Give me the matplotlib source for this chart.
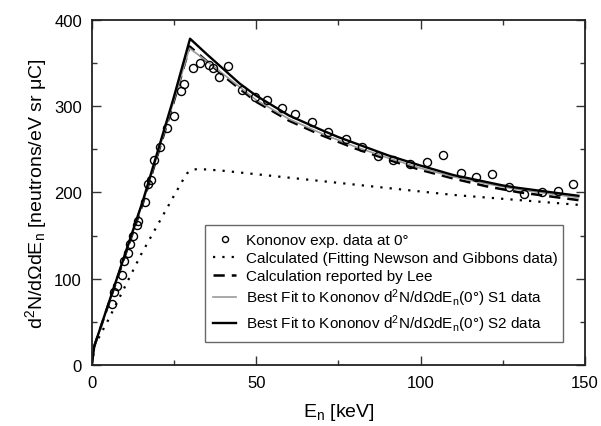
import matplotlib
matplotlib.use("Agg")
import matplotlib.pyplot as plt
from matplotlib.ticker import MultipleLocator

plt.rcParams["font.family"] = ["Liberation Sans", "DejaVu Sans"]
plt.rcParams["mathtext.default"] = "regular"

# Kononov experimental data at 0 deg
exp_e = [6.1, 6.9, 7.6, 9.3, 9.8, 10.9, 11.7, 12.6, 13.9, 14.1, 16.3, 17.0, 17.9,
         19.0, 20.9, 22.8, 25.1, 27.2, 28.2, 30.7, 32.9, 35.8, 36.8, 38.7, 41.3,
         45.8, 49.7, 53.2, 57.8, 61.9, 66.9, 71.9, 77.3, 82.1, 87.0, 91.7, 96.8,
         101.9, 106.9, 112.3, 116.8, 121.7, 126.9, 131.5, 137.0, 141.7, 146.4]
exp_y = [70.7, 85, 92, 104, 120.5, 130, 140.7, 149, 162, 167, 189, 209.4, 214.4,
         237.2, 253, 275, 289, 317.8, 325.6, 343.8, 349.6, 347.3, 344, 333.7, 346.8,
         319, 310, 307.4, 297.5, 290.8, 281.2, 269.6, 261.5, 253, 242.5, 237.9, 232.9,
         234.9, 243.7, 222.8, 217.5, 221.3, 206.6, 197.8, 200.1, 201.6, 210]

# Calculated (fitting Newson and Gibbons data)
calc_e = [0.0, 0.8, 5, 10, 15, 20, 25, 28, 29, 30, 32, 35, 40, 50, 60, 70, 80,
          90, 100, 110, 120, 130, 140, 148]
calc_y = [0, 22, 52, 90, 128, 162, 196, 216, 222, 225.5, 227, 226.5, 225, 221,
          217, 213, 209, 205, 201, 197, 194, 191, 188, 185.5]

# Calculation reported by Lee
lee_e = [0.0, 0.8, 15.7, 24.8, 29.8, 35, 40, 50, 60, 70, 80, 90, 100, 110, 120,
         130, 140, 148]
lee_y = [0, 22, 189, 303, 369, 352, 335, 305, 283, 266, 251, 238, 226, 216, 207,
         200, 195, 191]

# Best fit S1
s1_e = [0.0, 0.8, 15.7, 24.8, 29.7, 35, 40, 50, 60, 70, 80, 90, 100, 110, 120,
        130, 140, 148]
s1_y = [0, 22, 190, 304, 367, 352, 337, 307, 285, 268, 253, 240, 228, 218, 210,
        203, 198, 194]

# Best fit S2
s2_e = [0.0, 0.8, 15.7, 24.8, 29.9, 35, 40, 45, 50, 60, 70, 75, 80, 90, 100, 110,
        120, 125, 130, 140, 148]
s2_y = [0, 22, 192, 308, 378, 360, 343, 326, 312, 289, 272, 264, 257, 243, 231,
        220, 212, 208, 205, 200, 196]

fig = plt.figure(figsize=(6.01, 4.27), dpi=100)
ax = fig.add_axes([0.1526, 0.1429, 0.8208, 0.8086])

ax.plot(exp_e, exp_y, "o", mfc="none", mec="black", ms=5.8, mew=1.0,
        label="Kononov exp. data at 0°", zorder=5)
ax.plot(calc_e, calc_y, color="black", lw=1.6, linestyle=(0, (1, 3.2)),
        label="Calculated (Fitting Newson and Gibbons data)")
ax.plot(lee_e, lee_y, color="black", lw=1.8, linestyle=(0, (4.5, 2.8)),
        label="Calculation reported by Lee")
ax.plot(s1_e, s1_y, color="#999999", lw=1.2,
        label="Best Fit to Kononov d$^2$N/d$\\Omega$dE$_n$(0°) S1 data")
ax.plot(s2_e, s2_y, color="black", lw=1.7,
        label="Best Fit to Kononov d$^2$N/d$\\Omega$dE$_n$(0°) S2 data")

ax.set_xlim(0, 150)
ax.set_ylim(0, 400)
ax.xaxis.set_major_locator(MultipleLocator(50))
ax.xaxis.set_minor_locator(MultipleLocator(25))
ax.yaxis.set_major_locator(MultipleLocator(100))
ax.yaxis.set_minor_locator(MultipleLocator(50))
ax.tick_params(which="both", direction="in", top=True, right=True,
               labelsize=12, width=1.0, color="#333333")
ax.tick_params(which="major", length=6.5, pad=7)
ax.tick_params(which="minor", length=3.6)
for s in ax.spines.values():
    s.set_linewidth(1.3)
    s.set_color("#222222")

ax.set_xlabel("E$_n$ [keV]", fontsize=14, labelpad=8)
ax.set_ylabel("d$^2$N/d$\\Omega$dE$_n$ [neutrons/eV sr $\\mu$C]", fontsize=14,
              labelpad=4)

leg = ax.legend(loc="upper left", bbox_to_anchor=(0.2297, 0.4054, 0.726, 0.0),
                mode="expand", fontsize=11, frameon=True, fancybox=False,
                handlelength=1.5, handletextpad=0.65, borderaxespad=0,
                labelspacing=0.25, borderpad=0.55, markerscale=0.75)
leg.get_frame().set_edgecolor("#444444")
leg.get_frame().set_linewidth(1.0)

fig.savefig("out.png", dpi=100)
